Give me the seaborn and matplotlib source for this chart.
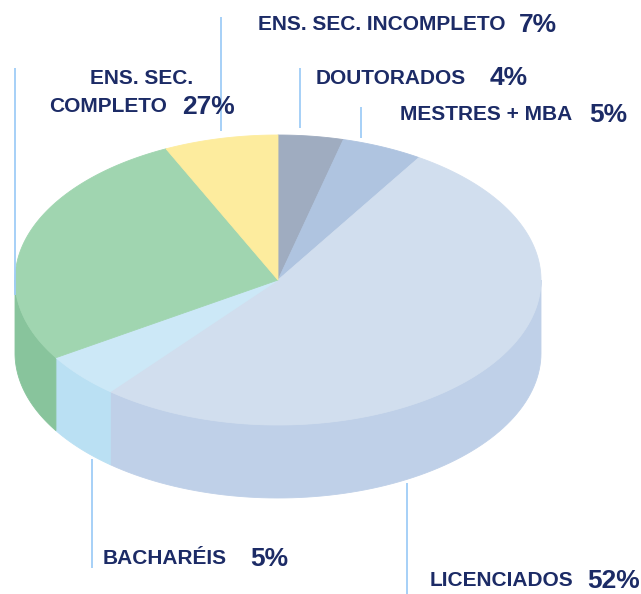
import numpy as np
import matplotlib
matplotlib.use("Agg")
import matplotlib.pyplot as plt
from matplotlib.patches import Polygon
from matplotlib import font_manager
import seaborn as sns

# ---- data ----
categories = ["DOUTORADOS", "MESTRES + MBA", "LICENCIADOS", "BACHARÉIS",
              "ENS. SEC. COMPLETO", "ENS. SEC. INCOMPLETO"]
values = [4, 5, 52, 5, 27, 7]
pct_labels = ["4%", "5%", "52%", "5%", "27%", "7%"]
top_colors = ["#9facc0", "#afc4e0", "#d1deee", "#cce8f7", "#a0d5b0", "#fdec9e"]
side_colors = ["#8f9cb0", "#9fb4d0", "#bfd0e8", "#bae0f3", "#88c49c", "#ecdb8c"]

sns.set_theme(style="white")
names = {f.name for f in font_manager.fontManager.ttflist}
fam = ["Liberation Sans Narrow", "DejaVu Sans"] if "Liberation Sans Narrow" in names else ["Liberation Sans", "DejaVu Sans"]
plt.rcParams["font.family"] = fam

W, H = 641, 594
fig = plt.figure(figsize=(W / 100, H / 100), dpi=100)
ax = fig.add_axes([0, 0, 1, 1])
ax.set_xlim(0, W)
ax.set_ylim(H, 0)
ax.axis("off")

cx, cy, rx, ry, depth = 278, 280, 263, 145, 73

def pt(a, dy=0.0):
    return cx + rx * np.cos(a), cy - ry * np.sin(a) + dy

# angles: start at 90 deg, clockwise
frac = np.array(values, float) / sum(values)
ends = np.pi / 2 - 2 * np.pi * np.cumsum(frac)
starts = np.concatenate([[np.pi / 2], ends[:-1]])

# sides (visible lower half: angles in (-pi, 0) mod 2pi)
for s, e, sc in zip(starts, ends, side_colors):
    # slice spans e..s (e < s); intersect with lower half range [-pi, 0] and [-3pi, -2pi] etc.
    for lo, hi in [(-np.pi, 0.0), (-3 * np.pi, -2 * np.pi)]:
        a0, a1 = max(e, lo), min(s, hi)
        if a1 > a0:
            t = np.linspace(a0, a1, 80)
            xs, ys = pt(t)
            xb, yb = pt(t[::-1], depth)
            poly = np.column_stack([np.concatenate([xs, xb]), np.concatenate([ys, yb])])
            ax.add_patch(Polygon(poly, closed=True, fc=sc, ec=sc, lw=0.6))

# top faces
for s, e, tc in zip(starts, ends, top_colors):
    t = np.linspace(s, e, 200)
    xs, ys = pt(t)
    poly = np.column_stack([np.concatenate([[cx], xs]), np.concatenate([[cy], ys])])
    ax.add_patch(Polygon(poly, closed=True, fc=tc, ec=tc, lw=0.6))

# leader lines
lc = "#9fcdf7"
for x, y0, y1 in [(15, 68, 295), (221, 17, 131), (300, 68, 128), (361, 107, 138),
                  (92, 459, 568), (407, 483, 594)]:
    ax.plot([x, x], [y0, y1], color=lc, lw=1.3, solid_capstyle="butt")

tcol = "#1c2b66"
lab_fs, pct_fs = 15, 19
kw = dict(color=tcol, fontweight="bold", va="center")

# label placements (label x, pct x, y)
ax.text(258, 25, categories[5], fontsize=lab_fs, ha="left", **kw)
ax.text(519, 25, pct_labels[5], fontsize=pct_fs, ha="left", **kw)
ax.text(316, 78, categories[0], fontsize=lab_fs, ha="left", **kw)
ax.text(490, 78, pct_labels[0], fontsize=pct_fs, ha="left", **kw)
ax.text(400, 115, categories[1], fontsize=lab_fs, ha="left", **kw)
ax.text(589, 115, pct_labels[1], fontsize=pct_fs, ha="left", **kw)
ax.text(142, 78, "ENS. SEC.", fontsize=lab_fs, ha="center", **kw)
ax.text(49, 107, "COMPLETO", fontsize=lab_fs, ha="left", **kw)
ax.text(182, 107, pct_labels[4], fontsize=pct_fs, ha="left", **kw)
ax.text(103, 559, categories[3], fontsize=lab_fs, ha="left", **kw)
ax.text(250, 559, pct_labels[3], fontsize=pct_fs, ha="left", **kw)
ax.text(430, 581, categories[2], fontsize=lab_fs, ha="left", **kw)
ax.text(587, 581, pct_labels[2], fontsize=pct_fs, ha="left", **kw)

fig.savefig("out.png", dpi=100, facecolor="white")
